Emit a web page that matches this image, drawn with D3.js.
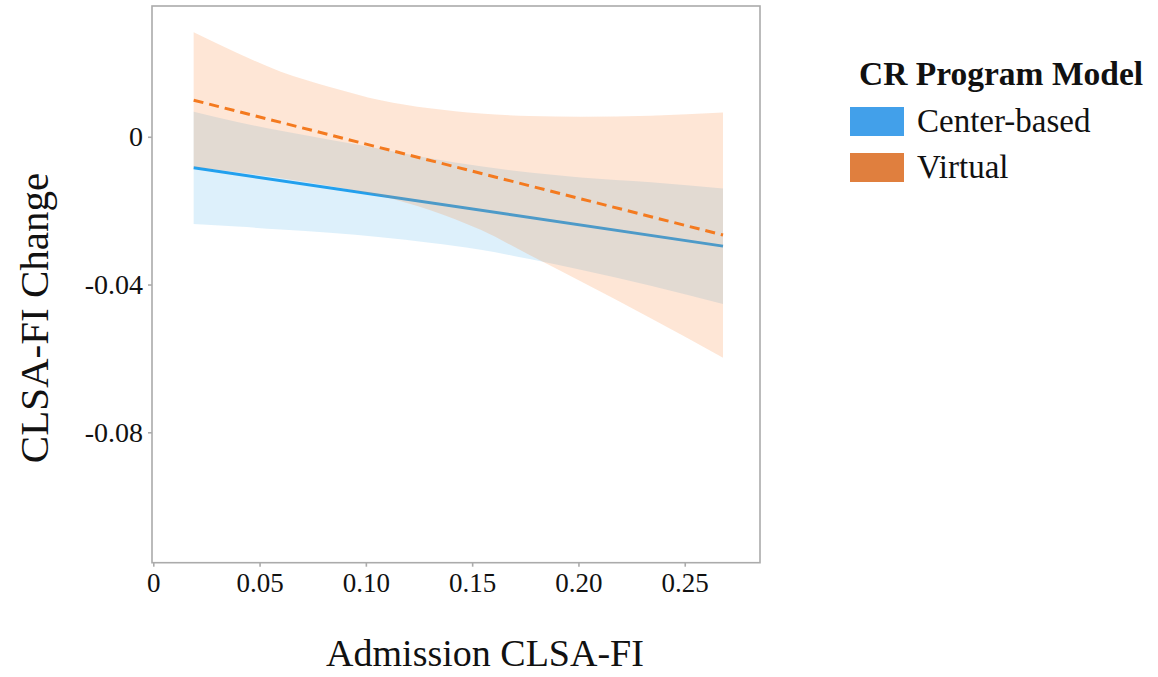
<!DOCTYPE html>
<html>
<head>
<meta charset="utf-8">
<script src="https://cdn.jsdelivr.net/npm/d3@7"></script>
<style>
  html, body { margin: 0; padding: 0; background: #ffffff; }
  svg text { font-family: "Liberation Serif", "Times New Roman", serif; fill: #111; }
</style>
</head>
<body>
<svg id="chart" width="1158" height="677"></svg>
<script>
// ---- data ----
const seriesNames = ["Center-based", "Virtual"];
const admissionX = [0.019, 0.0395, 0.060, 0.083, 0.107, 0.130, 0.154, 0.177, 0.201, 0.234, 0.268];
const centerUpper = [0.0068, 0.0040, 0.0016, -0.0008, -0.0033, -0.0058, -0.0080, -0.0097, -0.0110, -0.0123, -0.0140];
const centerLower = [-0.0236, -0.0243, -0.0251, -0.0260, -0.0272, -0.0287, -0.0306, -0.0331, -0.0360, -0.0403, -0.0453];
const virtualUpper = [0.0283, 0.0227, 0.0176, 0.0135, 0.0099, 0.0077, 0.0063, 0.0056, 0.0054, 0.0057, 0.0066];
const virtualLower = [-0.0081, -0.0096, -0.0112, -0.0133, -0.0160, -0.0198, -0.0252, -0.0320, -0.0391, -0.0491, -0.0598];
const lineX = [0.019, 0.268];
const centerFit = [-0.0084, -0.0296];
const virtualFit = [0.0099, -0.0266];
const xTicks = [0, 0.05, 0.10, 0.15, 0.20, 0.25];
const xTickLabels = ["0", "0.05", "0.10", "0.15", "0.20", "0.25"];
const yTicks = [0, -0.04, -0.08];
const yTickLabels = ["0", "-0.04", "-0.08"];

const svg = d3.select("#chart");
const panel = { left: 152, right: 760, top: 6, bottom: 562.7 };

const x = d3.scaleLinear().domain([-0.0006, 0.2854]).range([panel.left, panel.right]);
const y = d3.scaleLinear().domain([-0.1153, 0.0354]).range([panel.bottom, panel.top]);

const blueFill = "rgb(85,180,235)";
const orangeFill = "rgb(250,130,50)";
const blueLine = "#22a0ee";
const orangeLine = "#f47a1f";

const band = (lo, hi) => d3.area()
  .x((d, i) => x(admissionX[i]))
  .y0((d, i) => y(lo[i]))
  .y1((d, i) => y(hi[i]))
  .curve(d3.curveMonotoneX)(admissionX);

const fitLine = vals => d3.line()
  .x((d, i) => x(lineX[i]))
  .y((d, i) => y(vals[i]))(lineX);

const g = svg.append("g");

// Center-based ribbon and line
g.append("path").attr("d", band(centerLower, centerUpper))
  .attr("fill", blueFill).attr("fill-opacity", 0.2);
g.append("path").attr("d", fitLine(centerFit))
  .attr("fill", "none").attr("stroke", blueLine).attr("stroke-width", 3);

// Virtual ribbon and dashed line
g.append("path").attr("d", band(virtualLower, virtualUpper))
  .attr("fill", orangeFill).attr("fill-opacity", 0.2);
g.append("path").attr("d", fitLine(virtualFit))
  .attr("fill", "none").attr("stroke", orangeLine).attr("stroke-width", 3)
  .attr("stroke-dasharray", "10,6");

// panel border
svg.append("rect")
  .attr("x", panel.left).attr("y", panel.top)
  .attr("width", panel.right - panel.left).attr("height", panel.bottom - panel.top)
  .attr("fill", "none").attr("stroke", "#ababab").attr("stroke-width", 1.6);

// axes
const xAxis = d3.axisBottom(x).tickValues(xTicks).tickSize(4).tickPadding(6)
  .tickFormat((d, i) => xTickLabels[i]);
const gx = svg.append("g").attr("transform", `translate(0,${panel.bottom})`).call(xAxis);
gx.select(".domain").remove();
gx.selectAll(".tick line").attr("stroke", "#ababab").attr("stroke-width", 1.6);
gx.selectAll(".tick text").attr("font-size", 27).attr("fill", "#111")
  .attr("font-family", "Liberation Serif");

const yAxis = d3.axisLeft(y).tickValues(yTicks).tickSize(4).tickPadding(5)
  .tickFormat((d, i) => yTickLabels[i]);
const gy = svg.append("g").attr("transform", `translate(${panel.left},0)`).call(yAxis);
gy.select(".domain").remove();
gy.selectAll(".tick line").attr("stroke", "#ababab").attr("stroke-width", 1.6);
gy.selectAll(".tick text").attr("font-size", 28).attr("fill", "#111")
  .attr("font-family", "Liberation Serif");

// axis titles
svg.append("text").attr("x", 485).attr("y", 666).attr("text-anchor", "middle")
  .attr("font-size", 38).text("Admission CLSA-FI");
svg.append("text").attr("transform", "translate(48,318) rotate(-90)")
  .attr("text-anchor", "middle").attr("font-size", 41).text("CLSA-FI Change");

// legend
const legend = svg.append("g");
legend.append("text").attr("x", 859).attr("y", 85).attr("font-size", 33.5)
  .attr("font-weight", "bold").text("CR Program Model");
const keyColors = ["#42a0ea", "#e07f3e"];
seriesNames.forEach((name, i) => {
  legend.append("rect").attr("x", 850).attr("y", 107 + i * 46)
    .attr("width", 54).attr("height", 29).attr("fill", keyColors[i]);
  legend.append("text").attr("x", 917).attr("y", 132 + i * 45.5)
    .attr("font-size", 33).text(name);
});
</script>
</body>
</html>
